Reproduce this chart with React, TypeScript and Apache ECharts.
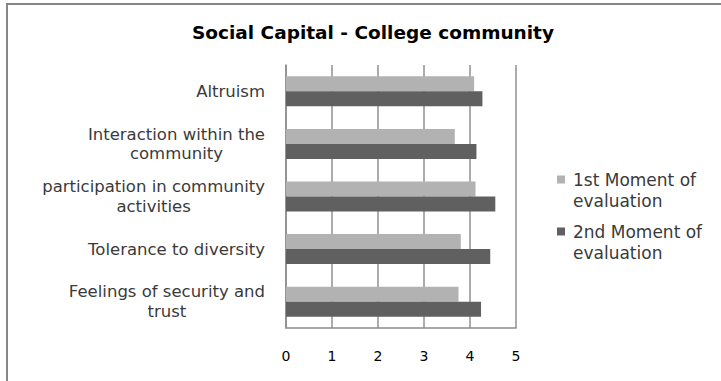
import React, { useEffect, useRef } from "react";
import * as echarts from "echarts";

const categories = [
  "Altruism",
  "Interaction within the\ncommunity",
  "participation in community\nactivities",
  "Tolerance to diversity",
  "Feelings of security and\ntrust",
];
const seriesNames = ["1st Moment of\nevaluation", "2nd Moment of\nevaluation"];
const firstMoment = [4.09, 3.67, 4.12, 3.8, 3.75];
const secondMoment = [4.27, 4.14, 4.55, 4.44, 4.24];
const xMin = 0;
const xMax = 5;
const xInterval = 1;

const FONT = "DejaVu Sans";

export default function App() {
  const ref = useRef<HTMLDivElement>(null);
  useEffect(() => {
    if (!ref.current) return;
    const chart = echarts.init(ref.current, null, { renderer: "svg" });
    const legendBase = {
      orient: "vertical" as const,
      left: 557,
      padding: 0,
      icon: "rect",
      itemWidth: 8,
      itemHeight: 8,
      formatter: (n: string) => "\n" + n,
      textStyle: {
        fontFamily: FONT,
        fontSize: 17,
        lineHeight: 21,
        color: "#3a3a3a",
        padding: [0, 0, 0, 3],
      },
    };
    chart.setOption({
      animation: false,
      backgroundColor: "#ffffff",
      title: {
        text: "Social Capital - College community",
        left: 368,
        textAlign: "center",
        top: 18,
        textStyle: { fontFamily: FONT, fontSize: 18.5, fontWeight: "bold", color: "#000" },
      },
      graphic: [
        {
          type: "rect",
          shape: { x: 7, y: 4, width: 740, height: 400 },
          style: { fill: "none", stroke: "#878787", lineWidth: 2 },
          silent: true,
        },
      ],
      legend: [
        { ...legendBase, top: 148, data: [seriesNames[0]] },
        { ...legendBase, top: 200, data: [seriesNames[1]] },
      ],
      grid: { left: 286, right: 205, top: 65, bottom: 53, containLabel: false },
      xAxis: {
        type: "value",
        min: xMin,
        max: xMax,
        interval: xInterval,
        axisLine: { show: true, lineStyle: { color: "#8c8c8c", width: 1.5 } },
        axisTick: { show: false },
        splitLine: { show: true, lineStyle: { color: "#909090", width: 1.5 } },
        axisLabel: { fontFamily: FONT, fontSize: 14, color: "#000", margin: 21 },
      },
      yAxis: {
        type: "category",
        inverse: true,
        data: categories,
        axisLine: { show: true, lineStyle: { color: "#8c8c8c", width: 1.5 } },
        axisTick: { show: false },
        axisLabel: {
          margin: 21,
          align: "right",
          fontFamily: FONT,
          fontSize: 16.5,
          lineHeight: 19.5,
          color: "#3a3a3a",
          formatter: (v: string) =>
            v
              .split("\n")
              .map((l) => `{c|${l}}`)
              .join("\n"),
          rich: {
            c: { align: "center", fontFamily: FONT, fontSize: 16.5, lineHeight: 19.5, color: "#3a3a3a" },
          },
        },
      },
      series: [
        {
          name: seriesNames[0],
          type: "bar",
          data: firstMoment,
          barWidth: 15,
          barGap: "0%",
          itemStyle: { color: "#b2b2b2" },
        },
        {
          name: seriesNames[1],
          type: "bar",
          data: secondMoment,
          barWidth: 15,
          barGap: "0%",
          itemStyle: { color: "#606060" },
        },
      ],
    });
    return () => chart.dispose();
  }, []);
  return (
    <div
      ref={ref}
      style={{ position: "fixed", left: 0, top: 0, width: 721, height: 381, background: "#fff" }}
    />
  );
}
